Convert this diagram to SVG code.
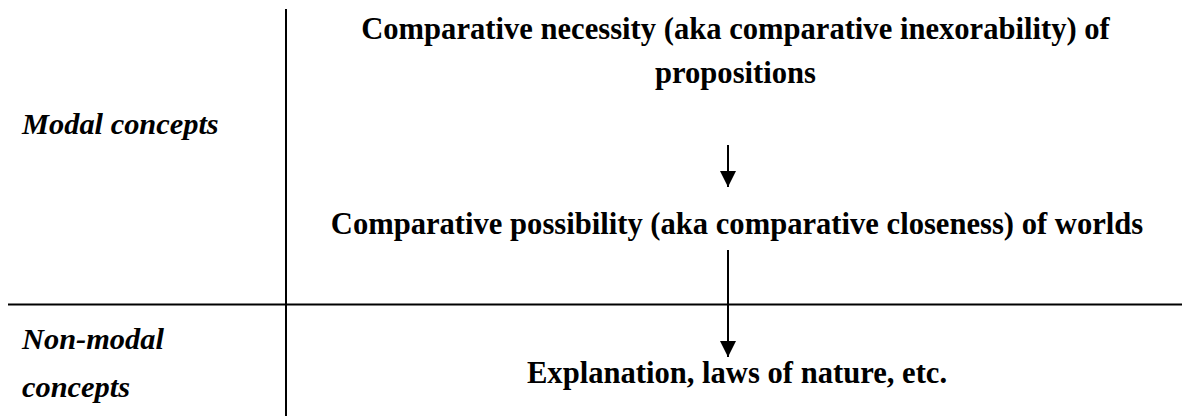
<svg xmlns="http://www.w3.org/2000/svg" width="1182" height="416" viewBox="0 0 1182 416">
<style>
.b{font-family:"Liberation Serif","Times New Roman",serif;font-weight:bold;font-size:30.6px;fill:#000;text-anchor:middle}
.i{font-family:"Liberation Serif","Times New Roman",serif;font-weight:bold;font-style:italic;font-size:30.4px;fill:#000}
.ln{stroke:#000;stroke-width:2;fill:none}
</style>
<defs>
<marker id="ah" markerUnits="userSpaceOnUse" markerWidth="16" markerHeight="16" viewBox="0 0 16 16" refX="16" refY="8" orient="auto">
<path d="M0,0 L16,8 L0,16 Z" fill="#000"/>
</marker>
</defs>
<g id="grid">
<line class="ln" x1="286" y1="9" x2="286" y2="416"/>
<line class="ln" x1="8" y1="304.5" x2="1182" y2="304.5"/>
</g>
<g id="label-modal"><text class="i" x="22" y="134">Modal concepts</text></g>
<g id="label-nonmodal"><text class="i" x="22" y="349">Non-modal</text><text class="i" x="22" y="397">concepts</text></g>
<g id="node-necessity"><text class="b" x="735.5" y="39">Comparative necessity (aka comparative inexorability) of</text><text class="b" x="735.5" y="83">propositions</text></g>
<g id="node-possibility"><text class="b" x="737" y="234">Comparative possibility (aka comparative closeness) of worlds</text></g>
<g id="node-explanation"><text class="b" x="737" y="383">Explanation, laws of nature, etc.</text></g>
<g id="connectors">
<line class="ln" x1="728" y1="145" x2="728" y2="187" marker-end="url(#ah)"/>
<line class="ln" x1="728" y1="250" x2="728" y2="357" marker-end="url(#ah)"/>
</g>
</svg>
